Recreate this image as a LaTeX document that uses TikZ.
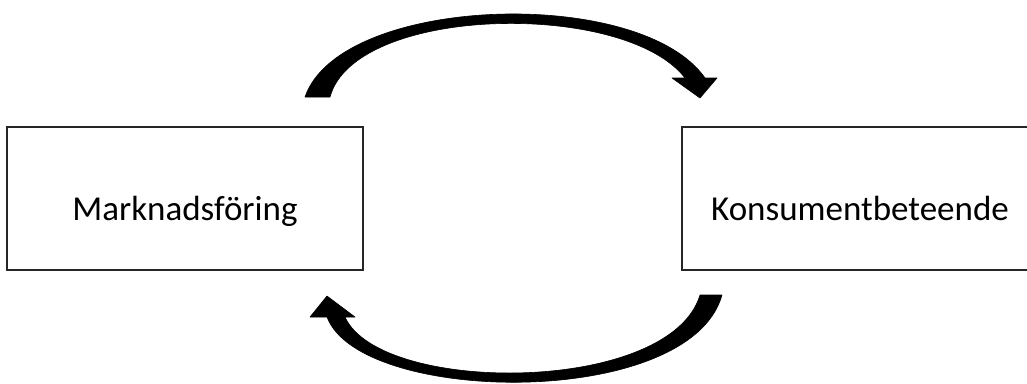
\documentclass[tikz,border=0pt]{standalone}
\usepackage{fontspec}
\setmainfont{Carlito}
\begin{document}
\begin{tikzpicture}[x=1pt,y=-1pt,
    box/.style={draw=black!85,line width=1.8pt,minimum width=356pt,minimum height=143pt,
      text height=43pt,text depth=0pt,font=\fontsize{35}{40}\selectfont},
    bigarrow/.style={fill=black,draw=black,line width=0.6pt,line join=round}]
    \useasboundingbox (0,0) rectangle (1027,383);
    \clip (0,0) rectangle (1027,383);

    \node[box] (mark) at (185,198.5) {Marknadsföring};
    \node[box] (kons) at (860,198.5) {Konsumentbeteende};

    % upper arrow
    \fill[bigarrow] (305,97) .. controls (340,-5) and (640,-15) .. (705,78)
      -- (717,78) -- (700,98) -- (672,78) -- (685,78)
      .. controls (625,0) and (355,5) .. (330,97) -- cycle;

    % lower arrow
    \fill[bigarrow] (722,295) .. controls (690,410) and (360,405) .. (327,317)
      -- (310,317) -- (327,296) -- (355,317) -- (345,317)
      .. controls (380,395) and (670,395) .. (700,295) -- cycle;
  \end{tikzpicture}
\end{document}
